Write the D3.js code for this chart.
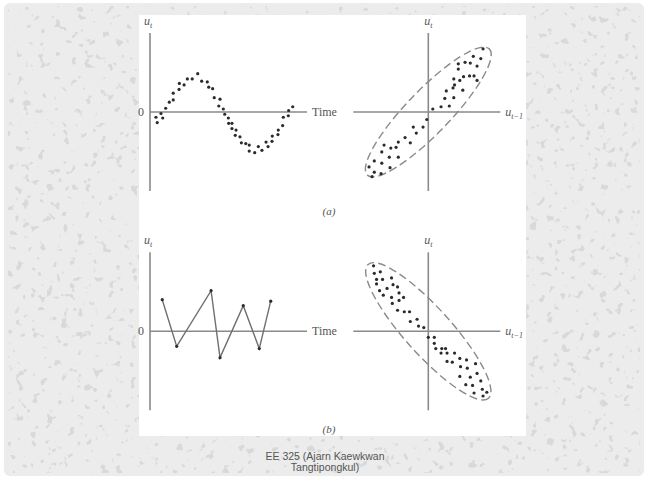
<!DOCTYPE html>
<html lang="en">
  <head>
    <meta charset="UTF-8" />
    <title>Autocorrelation sketch</title>
    <script src="https://d3js.org/d3.v7.min.js"></script>
    <style>
      body {
        margin: 0;
        background: #fff;
      }
      svg {
        display: block;
      }
      .lbl {
        font-family: "Liberation Serif", "DejaVu Serif", serif;
        font-size: 12px;
        fill: #555;
      }
      .foot {
        font-family: "Liberation Sans", Arial, sans-serif;
        font-size: 10.5px;
        fill: #555;
      }
    </style>
  </head>
  <body>
    <svg width="646" height="478"></svg>
    <script>
      // (a) positive autocorrelation: time series
      const timeA = [3.8, 4.6, 7.0, 8.1, 10.0, 12.3, 14.8, 14.8, 18.5, 18.7, 21.7, 23.8,
        26.9, 30.4, 32.9, 36.5, 37.4, 39.9, 40.9, 44.6, 43.8, 46.7, 47.6, 49.9, 50.1,
        52.2, 52.2, 54.8, 54.3, 57.3, 58.2, 61.0, 63.2, 63.2, 66.7, 69.0, 71.3, 73.9,
        75.2, 77.9, 77.7, 81.5, 81.7, 84.5, 84.9, 88.1, 88.3, 90.9];
      const valueA = [-0.07, -0.14, -0.02, -0.08, 0.05, 0.13, 0.16, 0.25, 0.30, 0.38,
        0.36, 0.44, 0.44, 0.51, 0.41, 0.40, 0.33, 0.31, 0.19, 0.17, 0.08, 0.04, -0.03,
        -0.08, -0.15, -0.15, -0.22, -0.24, -0.31, -0.33, -0.41, -0.42, -0.44, -0.52,
        -0.54, -0.46, -0.51, -0.40, -0.46, -0.32, -0.39, -0.30, -0.24, -0.18, -0.07,
        -0.05, 0.02, 0.07];

      // (a) u_t against u_{t-1}
      const lagA = [0.73, 0.60, 0.70, 0.40, 0.49, 0.56, 0.65, 0.40, 0.47, 0.55, 0.61,
        0.65, 0.34, 0.42, 0.35, 0.46, 0.24, 0.33, 0.22, 0.34, 0.17, 0.28, 0.06, -0.02,
        -0.07, -0.20, -0.16, -0.31, -0.24, -0.40, -0.43, -0.59, -0.50, -0.62, -0.52,
        -0.40, -0.72, -0.62, -0.51, -0.79, -0.72, -0.63, -0.75];
      const curA = [0.84, 0.74, 0.71, 0.64, 0.66, 0.65, 0.61, 0.57, 0.47, 0.48, 0.48,
        0.42, 0.44, 0.42, 0.36, 0.29, 0.28, 0.32, 0.18, 0.19, 0.07, 0.08, 0.04, -0.10,
        -0.20, -0.20, -0.28, -0.34, -0.41, -0.40, -0.47, -0.44, -0.48, -0.53, -0.60,
        -0.60, -0.65, -0.68, -0.74, -0.73, -0.80, -0.82, -0.86];

      // (b) negative autocorrelation: time series
      const timeB = [7.8, 17.0, 38.9, 44.6, 59.4, 69.6, 76.9];
      const valueB = [0.42, -0.20, 0.54, -0.35, 0.34, -0.23, 0.40];

      // (b) u_t against u_{t-1}
      const lagB = [-0.73, -0.72, -0.64, -0.69, -0.61, -0.49, -0.69, -0.55, -0.47,
        -0.41, -0.65, -0.60, -0.49, -0.39, -0.48, -0.39, -0.33, -0.41, -0.32, -0.25,
        -0.24, -0.15, -0.13, -0.06, 0.00, 0.08, 0.08, 0.10, 0.18, 0.23, 0.17, 0.25,
        0.35, 0.25, 0.32, 0.42, 0.51, 0.43, 0.52, 0.63, 0.42, 0.56, 0.65, 0.50, 0.59,
        0.70, 0.61, 0.72, 0.78, 0.73];
      const curB = [0.87, 0.77, 0.79, 0.69, 0.69, 0.71, 0.63, 0.57, 0.62, 0.59, 0.54,
        0.48, 0.45, 0.51, 0.37, 0.41, 0.45, 0.28, 0.26, 0.26, 0.13, 0.16, 0.07, 0.05,
        -0.08, -0.08, -0.16, -0.23, -0.23, -0.23, -0.29, -0.29, -0.29, -0.40, -0.41,
        -0.36, -0.38, -0.47, -0.49, -0.43, -0.60, -0.61, -0.56, -0.71, -0.72, -0.66,
        -0.82, -0.77, -0.81, -0.86];

      // dashed envelopes: semi-axes (in data units) and tilt in degrees
      const ellipseA = { major: 1.17, minor: 0.29, tilt: 46 };
      const ellipseB = { major: 1.2, minor: 0.31, tilt: -48 };

      const captions = ["(a)", "(b)"];
      const footer = ["EE 325 (Ajarn Kaewkwan", "Tangtipongkul)"];

      const svg = d3.select("svg");
      const defs = svg.append("defs");

      // mottled slide background
      const f = defs
        .append("filter")
        .attr("id", "mottle")
        .attr("x", 0)
        .attr("y", 0)
        .attr("width", 1)
        .attr("height", 1)
        .attr("color-interpolation-filters", "sRGB");
      f.append("feTurbulence")
        .attr("type", "fractalNoise")
        .attr("baseFrequency", 0.13)
        .attr("numOctaves", 2)
        .attr("seed", 7);
      f.append("feColorMatrix")
        .attr("type", "matrix")
        .attr("values", "0 0 0 0 0.85  0 0 0 0 0.85  0 0 0 0 0.85  14 0 0 0 -8.9");

      svg.append("rect")
        .attr("x", 4).attr("y", 3)
        .attr("width", 640).attr("height", 473)
        .attr("rx", 6)
        .attr("fill", "#ececec");
      svg.append("rect")
        .attr("x", 8).attr("y", 6)
        .attr("width", 632).attr("height", 467)
        .attr("filter", "url(#mottle)");

      svg.append("rect")
        .attr("x", 139).attr("y", 15)
        .attr("width", 387).attr("height", 421)
        .attr("fill", "#fff");

      const axisColor = "#8a8a8a";
      const dotColor = "#2b2b2b";

      function subLabel(x, y, sub, anchor) {
        const t = svg.append("text")
          .attr("class", "lbl")
          .attr("x", x).attr("y", y)
          .attr("text-anchor", anchor || "start")
          .style("font-style", "italic");
        t.append("tspan").text("u");
        t.append("tspan").attr("dy", 2.5).style("font-size", "8px").text(sub);
      }

      function timePanel(zeroY, t, u, connect) {
        const x = d3.scaleLinear().domain([0, 100]).range([150, 307]);
        const y = d3.scaleLinear().domain([-1.05, 1.05]).range([zeroY + 79, zeroY - 79]);
        const g = svg.append("g");
        g.append("line")
          .attr("x1", x(0)).attr("x2", x(0))
          .attr("y1", y(1.05)).attr("y2", y(-1.05))
          .attr("stroke", axisColor).attr("stroke-width", 1.6);
        g.append("line")
          .attr("x1", x(0)).attr("x2", x(100))
          .attr("y1", y(0)).attr("y2", y(0))
          .attr("stroke", axisColor).attr("stroke-width", 1.6);
        const pts = t.map((d, i) => [d, u[i]]);
        if (connect) {
          g.append("path")
            .datum(pts)
            .attr("d", d3.line().x((d) => x(d[0])).y((d) => y(d[1])))
            .attr("fill", "none")
            .attr("stroke", "#6f6f6f")
            .attr("stroke-width", 1.4);
        }
        g.selectAll("circle")
          .data(pts)
          .join("circle")
          .attr("cx", (d) => x(d[0]))
          .attr("cy", (d) => y(d[1]))
          .attr("r", 1.6)
          .attr("fill", dotColor);
        g.append("text").attr("class", "lbl")
          .attr("x", 141).attr("y", y(0) + 4)
          .attr("text-anchor", "middle").text("0");
        g.append("text").attr("class", "lbl")
          .attr("x", x(100) + 5).attr("y", y(0) + 4).text("Time");
        subLabel(144, y(1.05) - 8, "t");
      }

      function lagPanel(zeroY, lag, cur, ell) {
        const x = d3.scaleLinear().domain([-1, 1]).range([353.3, 503.3]);
        const y = d3.scaleLinear().domain([-1.05, 1.05]).range([zeroY + 79, zeroY - 79]);
        const g = svg.append("g");
        g.append("line")
          .attr("x1", x(0)).attr("x2", x(0))
          .attr("y1", y(1.05)).attr("y2", y(-1.05))
          .attr("stroke", axisColor).attr("stroke-width", 1.6);
        g.append("line")
          .attr("x1", x(-1)).attr("x2", x(0.96))
          .attr("y1", y(0)).attr("y2", y(0))
          .attr("stroke", axisColor).attr("stroke-width", 1.6);
        g.append("ellipse")
          .attr("cx", x(0)).attr("cy", y(0))
          .attr("rx", x(ell.major) - x(0))
          .attr("ry", x(ell.minor) - x(0))
          .attr("transform", `rotate(${-ell.tilt},${x(0)},${y(0)})`)
          .attr("fill", "none")
          .attr("stroke", "#8a8a8a")
          .attr("stroke-width", 1.4)
          .attr("stroke-dasharray", "8,4");
        g.selectAll("circle")
          .data(lag.map((d, i) => [d, cur[i]]))
          .join("circle")
          .attr("cx", (d) => x(d[0]))
          .attr("cy", (d) => y(d[1]))
          .attr("r", 1.6)
          .attr("fill", dotColor);
        subLabel(x(0) - 4, y(1.05) - 8, "t");
        subLabel(x(0.96) + 5, y(0) + 4, "t\u22121");
      }

      timePanel(112, timeA, valueA, false);
      lagPanel(112, lagA, curA, ellipseA);
      timePanel(331.3, timeB, valueB, true);
      lagPanel(331.3, lagB, curB, ellipseB);

      svg.selectAll(".cap")
        .data(captions)
        .join("text")
        .attr("class", "lbl cap")
        .attr("x", 329)
        .attr("y", (d, i) => [215, 433][i])
        .attr("text-anchor", "middle")
        .style("font-style", "italic")
        .style("font-size", "11px")
        .text((d) => d);

      svg.selectAll(".foot")
        .data(footer)
        .join("text")
        .attr("class", "foot")
        .attr("x", 325)
        .attr("y", (d, i) => 460 + i * 11)
        .attr("text-anchor", "middle")
        .text((d) => d);
    </script>
  </body>
</html>
